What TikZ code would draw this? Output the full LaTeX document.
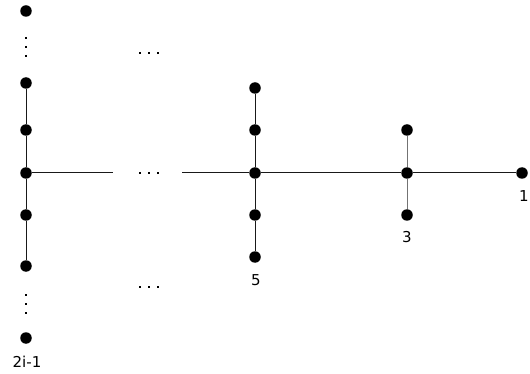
\documentclass[tikz,border=0pt]{standalone}
\usepackage{fontspec}
\setmainfont{DejaVu Sans}
\begin{document}
\begin{tikzpicture}[x=1pt,y=-1pt,
  vtx/.style={circle,fill=black,inner sep=0pt,minimum size=11.5pt},
  edge/.style={line width=1pt,black!90},
  lbl/.style={font=\fontsize{15}{17}\selectfont,inner sep=0pt},
  gap/.style={line width=2pt,dash pattern=on 2pt off 7pt}]
\useasboundingbox (0,0) rectangle (530,374);
% left column
\node[vtx] (a1) at (26,11) {};
\node[vtx] (a2) at (26,83) {};
\node[vtx] (a3) at (26,130) {};
\node[vtx] (a4) at (26,173) {};
\node[vtx] (a5) at (26,215) {};
\node[vtx] (a6) at (26,266) {};
\node[vtx] (a7) at (26,338) {};
\node[lbl] (l2i) at (27,362) {2i-1};
% column 5
\node[vtx] (b1) at (255,88) {};
\node[vtx] (b2) at (255,130) {};
\node[vtx] (b3) at (255,173) {};
\node[vtx] (b4) at (255,215) {};
\node[vtx] (b5) at (255,257) {};
\node[lbl] (l5) at (256,280) {5};
% column 3
\node[vtx] (c1) at (407,130) {};
\node[vtx] (c2) at (407,173) {};
\node[vtx] (c3) at (407,215) {};
\node[lbl] (l3) at (407,237) {3};
% end
\node[vtx] (d) at (522,173) {};
\node[lbl] (l1) at (524,196) {1};
% free ends
\coordinate (e1) at (113,173);
\coordinate (e2) at (182,173);
% edges
\draw[edge] (a2) -- (a3) -- (a4) -- (a5) -- (a6);
\draw[edge] (a4) -- (e1);
\draw[edge] (e2) -- (b3) -- (c2) -- (d);
\draw[edge] (b1) -- (b2) -- (b3) -- (b4) -- (b5);
\draw[line width=0.8pt,black!55] (c1) -- (c2) -- (c3);
% ellipses
\draw[gap] (26,37) -- (26,60);
\draw[gap] (26,294) -- (26,317);
\draw[gap] (139,53) -- (162,53);
\draw[gap] (139,173) -- (162,173);
\draw[gap] (139,287) -- (162,287);
\end{tikzpicture}
\end{document}
